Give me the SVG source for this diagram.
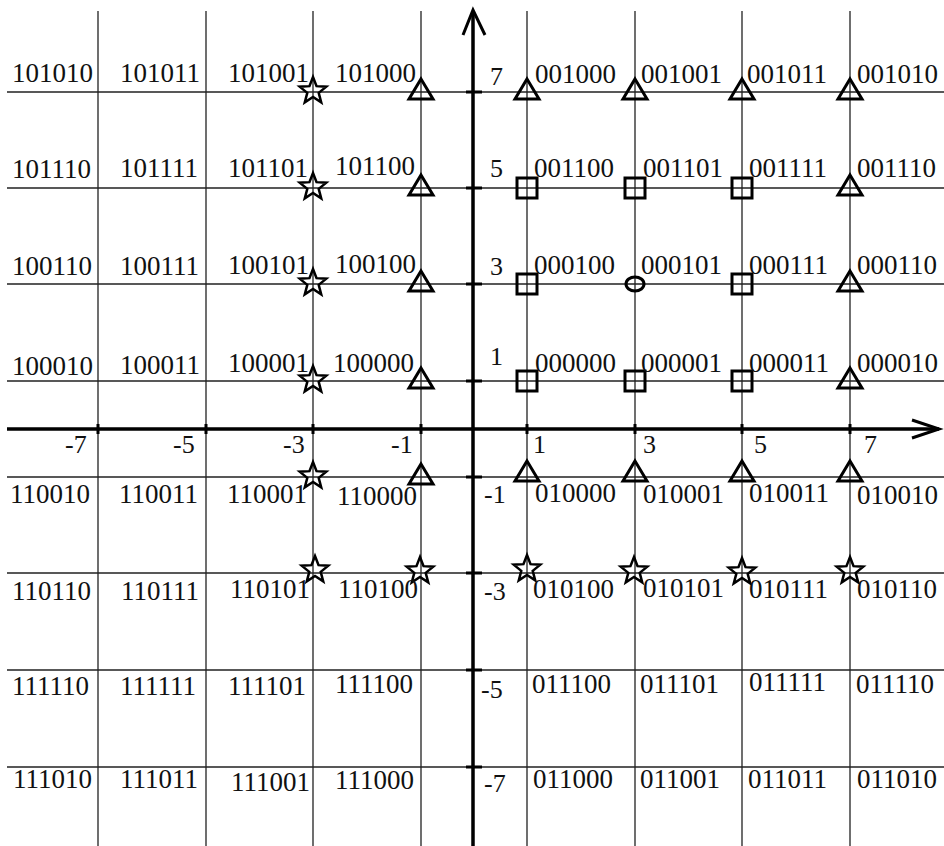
<svg xmlns="http://www.w3.org/2000/svg" xmlns:xlink="http://www.w3.org/1999/xlink" width="944" height="846" viewBox="0 0 944 846">
<style>
.g{stroke:#222;stroke-width:1.3;fill:none}
.ax{stroke:#000;stroke-width:3.5;fill:none}
.tk{stroke:#000;stroke-width:3;fill:none}
.m{stroke:#000;stroke-width:3;fill:none;stroke-linejoin:miter}
.s{stroke:#000;stroke-width:2.5;fill:none;stroke-linejoin:miter}
text{font-family:"Liberation Serif","Times New Roman",serif;font-size:27px;fill:#111}
.n{font-size:26px}
</style>
<defs>
<path id="tri" class="m" d="M0,-13 L12,7 L-12,7 Z"/>
<rect id="sq" class="m" x="-10" y="-10" width="20" height="20"/>
<polygon id="star" class="s" points="0,-14 3.53,-4.85 13.31,-4.33 5.71,1.85 8.23,11.33 0,6 -8.23,11.33 -5.71,1.85 -13.31,-4.33 -3.53,-4.85" transform="translate(0,-1)"/>
<ellipse id="circ" class="m" cx="0" cy="0" rx="9" ry="7"/>
</defs>
<rect width="944" height="846" fill="#fff"/>
<g id="grid">
<path class="g" d="M7,92H944M7,188H944M7,284H944M7,381H944M7,477H944M7,573H944M7,670H944M7,767H944"/>
<path class="g" d="M98,11V846M206,11V846M313,11V846M421,11V846M527,11V846M635,11V846M742,11V846M850,11V846"/>
</g>
<g id="axes">
<path class="ax" d="M473,846V11M7,429H939"/>
<path class="tk" d="M463,35L473,10L485,35M912,420L939,429L912,438"/>
<path class="tk" d="M98,424V434M206,424V434M313,424V434M421,424V434M527,424V434M635,424V434M742,424V434M850,424V434"/>
<path class="tk" d="M466,92H482M466,188H482M466,284H482M466,381H482M466,477H482M466,573H482M466,670H482M466,767H482"/>
<g id="axis-labels">
<text class="n" x="65" y="453">-7</text><text class="n" x="173" y="453">-5</text><text class="n" x="283" y="453">-3</text><text class="n" x="391" y="453">-1</text>
<text class="n" x="533" y="453">1</text><text class="n" x="643" y="453">3</text><text class="n" x="754" y="453">5</text><text class="n" x="864" y="453">7</text>
<text class="n" x="490" y="85">7</text><text class="n" x="490" y="177">5</text><text class="n" x="490" y="275">3</text><text class="n" x="490" y="365">1</text>
<text class="n" x="484" y="503">-1</text><text class="n" x="484" y="600">-3</text><text class="n" x="481" y="698">-5</text><text class="n" x="484" y="792">-7</text>
</g>
</g>
<g id="connectors"></g>
<!-- row 7 -->
<g id="p101010"><text x="12" y="82">101010</text></g>
<g id="p101011"><text x="120" y="82">101011</text></g>
<g id="p101001"><use xlink:href="#star" x="313" y="92"/><text x="228" y="82">101001</text></g>
<g id="p101000"><use xlink:href="#tri" x="421" y="92"/><text x="335" y="82">101000</text></g>
<g id="p001000"><use xlink:href="#tri" x="527" y="92"/><text x="535" y="83">001000</text></g>
<g id="p001001"><use xlink:href="#tri" x="635" y="92"/><text x="641" y="83">001001</text></g>
<g id="p001011"><use xlink:href="#tri" x="742" y="92"/><text x="747" y="83">001011</text></g>
<g id="p001010"><use xlink:href="#tri" x="850" y="92"/><text x="857" y="83">001010</text></g>
<!-- row 5 -->
<g id="p101110"><text x="12" y="178">101110</text></g>
<g id="p101111"><text x="120" y="177">101111</text></g>
<g id="p101101"><use xlink:href="#star" x="313" y="188"/><text x="228" y="177">101101</text></g>
<g id="p101100"><use xlink:href="#tri" x="421" y="188"/><text x="335" y="175">101100</text></g>
<g id="p001100"><use xlink:href="#sq" x="527" y="188"/><text x="534" y="177">001100</text></g>
<g id="p001101"><use xlink:href="#sq" x="635" y="188"/><text x="643" y="177">001101</text></g>
<g id="p001111"><use xlink:href="#sq" x="742" y="188"/><text x="749" y="177">001111</text></g>
<g id="p001110"><use xlink:href="#tri" x="850" y="188"/><text x="857" y="177">001110</text></g>
<!-- row 3 -->
<g id="p100110"><text x="12" y="275">100110</text></g>
<g id="p100111"><text x="120" y="275">100111</text></g>
<g id="p100101"><use xlink:href="#star" x="313" y="284"/><text x="228" y="274">100101</text></g>
<g id="p100100"><use xlink:href="#tri" x="421" y="284"/><text x="335" y="273">100100</text></g>
<g id="p000100"><use xlink:href="#sq" x="527" y="284"/><text x="534" y="274">000100</text></g>
<g id="p000101"><use xlink:href="#circ" x="635" y="284"/><text x="641" y="274">000101</text></g>
<g id="p000111"><use xlink:href="#sq" x="742" y="284"/><text x="749" y="274">000111</text></g>
<g id="p000110"><use xlink:href="#tri" x="850" y="284"/><text x="857" y="274">000110</text></g>
<!-- row 1 -->
<g id="p100010"><text x="12" y="375">100010</text></g>
<g id="p100011"><text x="120" y="374">100011</text></g>
<g id="p100001"><use xlink:href="#star" x="313" y="381"/><text x="228" y="372">100001</text></g>
<g id="p100000"><use xlink:href="#tri" x="421" y="381"/><text x="333" y="372">100000</text></g>
<g id="p000000"><use xlink:href="#sq" x="527" y="381"/><text x="535" y="372">000000</text></g>
<g id="p000001"><use xlink:href="#sq" x="635" y="381"/><text x="641" y="372">000001</text></g>
<g id="p000011"><use xlink:href="#sq" x="742" y="381"/><text x="749" y="372">000011</text></g>
<g id="p000010"><use xlink:href="#tri" x="850" y="381"/><text x="857" y="372">000010</text></g>
<!-- row -1 -->
<g id="p110010"><text x="10" y="503">110010</text></g>
<g id="p110011"><text x="119" y="503">110011</text></g>
<g id="p110001"><use xlink:href="#star" x="313" y="477"/><text x="227" y="503">110001</text></g>
<g id="p110000"><use xlink:href="#tri" x="421" y="477"/><text x="337" y="505">110000</text></g>
<g id="p010000"><use xlink:href="#tri" x="527" y="474"/><text x="535" y="502">010000</text></g>
<g id="p010001"><use xlink:href="#tri" x="635" y="474"/><text x="643" y="503">010001</text></g>
<g id="p010011"><use xlink:href="#tri" x="742" y="474"/><text x="749" y="502">010011</text></g>
<g id="p010010"><use xlink:href="#tri" x="850" y="474"/><text x="857" y="504">010010</text></g>
<!-- row -3 -->
<g id="p110110"><text x="12" y="600">110110</text></g>
<g id="p110111"><text x="121" y="600">110111</text></g>
<g id="p110101"><use xlink:href="#star" x="315" y="571"/><text x="230" y="598">110101</text></g>
<g id="p110100"><use xlink:href="#star" x="420" y="572"/><text x="338" y="598">110100</text></g>
<g id="p010100"><use xlink:href="#star" x="527" y="570"/><text x="533" y="598">010100</text></g>
<g id="p010101"><use xlink:href="#star" x="634" y="572"/><text x="643" y="597">010101</text></g>
<g id="p010111"><use xlink:href="#star" x="742" y="573"/><text x="749" y="598">010111</text></g>
<g id="p010110"><use xlink:href="#star" x="850" y="572"/><text x="857" y="598">010110</text></g>
<!-- row -5 -->
<g id="p111110"><text x="12" y="695">111110</text></g>
<g id="p111111"><text x="120" y="695">111111</text></g>
<g id="p111101"><text x="228" y="695">111101</text></g>
<g id="p111100"><text x="335" y="693">111100</text></g>
<g id="p011100"><text x="532" y="693">011100</text></g>
<g id="p011101"><text x="640" y="693">011101</text></g>
<g id="p011111"><text x="749" y="691">011111</text></g>
<g id="p011110"><text x="856" y="693">011110</text></g>
<!-- row -7 -->
<g id="p111010"><text x="13" y="788">111010</text></g>
<g id="p111011"><text x="120" y="788">111011</text></g>
<g id="p111001"><text x="231" y="791">111001</text></g>
<g id="p111000"><text x="335" y="789">111000</text></g>
<g id="p011000"><text x="533" y="788">011000</text></g>
<g id="p011001"><text x="640" y="788">011001</text></g>
<g id="p011011"><text x="748" y="788">011011</text></g>
<g id="p011010"><text x="857" y="788">011010</text></g>
</svg>
